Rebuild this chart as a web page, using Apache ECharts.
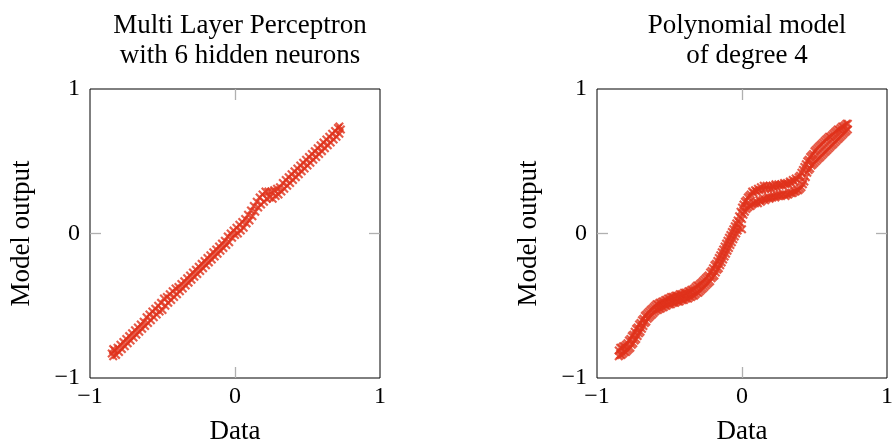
<!DOCTYPE html>
<html>
<head>
<meta charset="utf-8">
<title>Model output vs data</title>
<script src="https://cdn.jsdelivr.net/npm/echarts@6/dist/echarts.min.js"></script>
<style>
  html, body { margin: 0; padding: 0; background: #fff; }
  #chart { width: 896px; height: 446px; }
</style>
</head>
<body>
<div id="chart"></div>
<script>
// values
const tickValues = [-1, 0, 1];
const panelTitles = ['Multi Layer Perceptron\nwith 6 hidden neurons', 'Polynomial model\nof degree 4'];
const xName = 'Data';
const yName = 'Model output';

const mlpPoints = [
  [-0.85,-0.83],[-0.84,-0.80],[-0.84,-0.85],[-0.83,-0.81],[-0.82,-0.84],[-0.81,-0.79],[-0.80,-0.82],[-0.79,-0.77],
  [-0.78,-0.80],[-0.77,-0.75],[-0.76,-0.78],[-0.75,-0.73],[-0.74,-0.76],[-0.73,-0.71],[-0.72,-0.74],[-0.71,-0.69],
  [-0.70,-0.72],[-0.69,-0.67],[-0.68,-0.70],[-0.67,-0.65],[-0.66,-0.68],[-0.65,-0.63],[-0.64,-0.66],[-0.63,-0.61],
  [-0.62,-0.64],[-0.61,-0.58],[-0.60,-0.62],[-0.59,-0.56],[-0.58,-0.60],[-0.57,-0.54],[-0.56,-0.58],[-0.55,-0.52],
  [-0.54,-0.56],[-0.53,-0.50],[-0.52,-0.54],[-0.51,-0.48],[-0.50,-0.53],[-0.49,-0.45],[-0.48,-0.50],[-0.47,-0.44],
  [-0.46,-0.48],[-0.45,-0.42],[-0.44,-0.46],[-0.43,-0.40],[-0.42,-0.44],[-0.41,-0.38],[-0.40,-0.42],[-0.39,-0.37],
  [-0.38,-0.40],[-0.37,-0.35],[-0.36,-0.38],[-0.35,-0.33],[-0.34,-0.36],[-0.33,-0.31],[-0.32,-0.34],[-0.31,-0.29],
  [-0.30,-0.32],[-0.29,-0.27],[-0.28,-0.30],[-0.27,-0.25],[-0.26,-0.28],[-0.25,-0.23],[-0.24,-0.26],[-0.23,-0.21],
  [-0.22,-0.24],[-0.21,-0.19],[-0.20,-0.22],[-0.19,-0.17],[-0.18,-0.20],[-0.17,-0.15],[-0.16,-0.18],[-0.15,-0.13],
  [-0.14,-0.16],[-0.13,-0.11],[-0.12,-0.14],[-0.11,-0.09],[-0.10,-0.12],[-0.09,-0.07],[-0.08,-0.10],[-0.07,-0.05],
  [-0.06,-0.08],[-0.05,-0.02],[-0.04,-0.06],[-0.03,0.00],[-0.02,-0.03],[-0.01,0.02],[0.00,-0.01],[0.01,0.04],
  [0.02,0.00],[0.03,0.06],[0.04,0.02],[0.05,0.08],[0.06,0.04],[0.07,0.10],[0.08,0.07],[0.09,0.13],
  [0.10,0.09],[0.11,0.16],[0.12,0.12],[0.13,0.19],[0.14,0.15],[0.15,0.22],[0.16,0.18],[0.17,0.25],
  [0.18,0.20],[0.19,0.27],[0.20,0.22],[0.21,0.29],[0.22,0.24],[0.23,0.29],[0.24,0.25],[0.25,0.29],
  [0.26,0.24],[0.27,0.30],[0.28,0.26],[0.29,0.31],[0.30,0.27],[0.31,0.32],[0.32,0.29],[0.33,0.35],
  [0.34,0.31],[0.35,0.37],[0.36,0.33],[0.37,0.39],[0.38,0.35],[0.39,0.41],[0.40,0.37],[0.41,0.43],
  [0.42,0.39],[0.43,0.45],[0.44,0.41],[0.45,0.47],[0.46,0.43],[0.47,0.49],[0.48,0.45],[0.49,0.51],
  [0.50,0.47],[0.51,0.53],[0.52,0.49],[0.53,0.55],[0.54,0.51],[0.55,0.57],[0.56,0.53],[0.57,0.59],
  [0.58,0.55],[0.59,0.61],[0.60,0.57],[0.61,0.63],[0.62,0.59],[0.63,0.65],[0.64,0.61],[0.65,0.67],
  [0.66,0.63],[0.67,0.69],[0.68,0.65],[0.69,0.71],[0.70,0.67],[0.71,0.73],[0.72,0.69],[0.73,0.72],
  [0.72,0.74]
];

const polyPoints = [
  [-0.85,-0.81],[-0.85,-0.85],[-0.84,-0.79],[-0.84,-0.84],[-0.83,-0.79],[-0.83,-0.84],[-0.82,-0.78],[-0.82,-0.83],
  [-0.81,-0.78],[-0.81,-0.82],[-0.80,-0.77],[-0.80,-0.82],[-0.79,-0.76],[-0.79,-0.81],[-0.78,-0.74],[-0.78,-0.80],
  [-0.77,-0.73],[-0.77,-0.79],[-0.76,-0.71],[-0.76,-0.77],[-0.75,-0.70],[-0.75,-0.76],[-0.74,-0.68],[-0.74,-0.74],
  [-0.73,-0.66],[-0.73,-0.73],[-0.72,-0.65],[-0.72,-0.71],[-0.71,-0.63],[-0.71,-0.69],[-0.70,-0.62],[-0.70,-0.68],
  [-0.69,-0.60],[-0.69,-0.66],[-0.68,-0.59],[-0.68,-0.64],[-0.67,-0.57],[-0.67,-0.62],[-0.66,-0.56],[-0.66,-0.61],
  [-0.65,-0.55],[-0.65,-0.59],[-0.64,-0.54],[-0.64,-0.58],[-0.63,-0.53],[-0.63,-0.57],[-0.62,-0.52],[-0.62,-0.56],
  [-0.61,-0.51],[-0.61,-0.55],[-0.60,-0.50],[-0.60,-0.54],[-0.59,-0.49],[-0.59,-0.53],[-0.58,-0.49],[-0.58,-0.53],
  [-0.57,-0.48],[-0.57,-0.52],[-0.56,-0.48],[-0.56,-0.52],[-0.55,-0.47],[-0.55,-0.51],[-0.54,-0.47],[-0.54,-0.51],
  [-0.53,-0.46],[-0.53,-0.50],[-0.52,-0.46],[-0.52,-0.50],[-0.51,-0.45],[-0.51,-0.49],[-0.50,-0.45],[-0.50,-0.49],
  [-0.49,-0.44],[-0.49,-0.49],[-0.48,-0.44],[-0.48,-0.48],[-0.47,-0.44],[-0.47,-0.48],[-0.46,-0.43],[-0.46,-0.48],
  [-0.45,-0.43],[-0.45,-0.47],[-0.44,-0.43],[-0.44,-0.47],[-0.43,-0.42],[-0.43,-0.47],[-0.42,-0.42],[-0.42,-0.46],
  [-0.41,-0.42],[-0.41,-0.46],[-0.40,-0.41],[-0.40,-0.46],[-0.39,-0.41],[-0.39,-0.45],[-0.38,-0.41],[-0.38,-0.45],
  [-0.37,-0.40],[-0.37,-0.45],[-0.36,-0.40],[-0.36,-0.44],[-0.35,-0.39],[-0.35,-0.44],[-0.34,-0.39],[-0.34,-0.43],
  [-0.33,-0.38],[-0.33,-0.43],[-0.32,-0.37],[-0.32,-0.42],[-0.31,-0.36],[-0.31,-0.41],[-0.30,-0.36],[-0.30,-0.41],
  [-0.29,-0.35],[-0.29,-0.40],[-0.28,-0.34],[-0.28,-0.39],[-0.27,-0.33],[-0.27,-0.38],[-0.26,-0.32],[-0.26,-0.37],
  [-0.25,-0.31],[-0.25,-0.36],[-0.24,-0.30],[-0.24,-0.35],[-0.23,-0.29],[-0.23,-0.34],[-0.22,-0.27],[-0.22,-0.33],
  [-0.21,-0.26],[-0.21,-0.31],[-0.20,-0.24],[-0.20,-0.30],[-0.19,-0.22],[-0.19,-0.29],[-0.18,-0.21],[-0.18,-0.27],
  [-0.17,-0.19],[-0.17,-0.25],[-0.16,-0.17],[-0.16,-0.24],[-0.15,-0.15],[-0.15,-0.22],[-0.14,-0.13],[-0.14,-0.20],
  [-0.13,-0.11],[-0.13,-0.18],[-0.12,-0.09],[-0.12,-0.16],[-0.11,-0.07],[-0.11,-0.14],[-0.10,-0.05],[-0.10,-0.12],
  [-0.09,-0.03],[-0.09,-0.10],[-0.08,-0.01],[-0.08,-0.08],[-0.07,0.01],[-0.07,-0.06],[-0.06,0.03],[-0.06,-0.04],
  [-0.05,0.05],[-0.05,-0.02],[-0.04,0.07],[-0.04,0.00],[-0.03,0.09],[-0.03,0.02],[-0.02,0.12],[-0.02,0.04],
  [-0.01,0.15],[-0.01,0.07],[0.00,0.18],[0.00,0.10],[0.00,0.03],[0.01,0.20],[0.01,0.13],[0.02,0.22],
  [0.02,0.15],[0.03,0.23],[0.03,0.17],[0.04,0.25],[0.04,0.18],[0.05,0.26],[0.05,0.19],[0.06,0.27],
  [0.06,0.19],[0.07,0.29],[0.07,0.20],[0.08,0.28],[0.08,0.21],[0.09,0.30],[0.09,0.21],[0.10,0.29],
  [0.10,0.22],[0.11,0.31],[0.11,0.21],[0.12,0.30],[0.12,0.23],[0.13,0.32],[0.13,0.22],[0.14,0.30],
  [0.14,0.23],[0.15,0.33],[0.15,0.24],[0.16,0.31],[0.16,0.23],[0.17,0.33],[0.17,0.24],[0.18,0.31],
  [0.18,0.25],[0.19,0.33],[0.19,0.24],[0.20,0.31],[0.20,0.25],[0.21,0.33],[0.21,0.25],[0.22,0.32],
  [0.22,0.26],[0.23,0.34],[0.23,0.25],[0.24,0.32],[0.24,0.26],[0.25,0.34],[0.25,0.26],[0.26,0.33],
  [0.26,0.27],[0.27,0.34],[0.27,0.26],[0.28,0.33],[0.28,0.27],[0.29,0.35],[0.29,0.27],[0.30,0.34],
  [0.30,0.26],[0.31,0.35],[0.31,0.27],[0.32,0.34],[0.32,0.27],[0.33,0.36],[0.33,0.28],[0.34,0.35],
  [0.34,0.28],[0.35,0.37],[0.35,0.28],[0.36,0.36],[0.36,0.29],[0.37,0.38],[0.37,0.29],[0.38,0.37],
  [0.38,0.30],[0.39,0.39],[0.39,0.30],[0.40,0.40],[0.40,0.31],[0.41,0.42],[0.41,0.32],[0.42,0.44],
  [0.42,0.34],[0.43,0.46],[0.43,0.36],[0.44,0.48],[0.44,0.39],[0.45,0.50],[0.45,0.42],[0.46,0.51],
  [0.46,0.44],[0.47,0.53],[0.47,0.45],[0.48,0.54],[0.48,0.47],[0.49,0.55],[0.49,0.48],[0.50,0.57],
  [0.50,0.49],[0.51,0.58],[0.51,0.50],[0.52,0.59],[0.52,0.51],[0.53,0.60],[0.53,0.52],[0.54,0.61],
  [0.54,0.53],[0.55,0.62],[0.55,0.54],[0.56,0.63],[0.56,0.55],[0.57,0.64],[0.57,0.56],[0.58,0.65],
  [0.58,0.57],[0.59,0.66],[0.59,0.58],[0.60,0.67],[0.60,0.59],[0.61,0.67],[0.61,0.60],[0.62,0.68],
  [0.62,0.61],[0.63,0.69],[0.63,0.62],[0.64,0.70],[0.64,0.63],[0.65,0.71],[0.65,0.64],[0.66,0.72],
  [0.66,0.65],[0.67,0.72],[0.67,0.66],[0.68,0.73],[0.68,0.67],[0.69,0.74],[0.69,0.68],[0.70,0.74],
  [0.70,0.69],[0.71,0.75],[0.71,0.70],[0.72,0.76],[0.72,0.71],[0.73,0.76],[0.73,0.72]
];

const FONT = '"Liberation Serif", "DejaVu Serif", serif';
const RED = '#e0321b';
const CROSS = 'path://M0,1.7L1.7,0L5,3.3L8.3,0L10,1.7L6.7,5L10,8.3L8.3,10L5,6.7L1.7,10L0,8.3L3.3,5Z';

const fmt = (v) => (v < 0 ? '\u2212' + Math.abs(v) : String(v));

const grids = [
  { left: 90, top: 89, width: 290, height: 289 },
  { left: 597, top: 89, width: 290, height: 289 },
];

function makeAxis(gridIndex, position, isX, main) {
  return {
    type: 'value',
    gridIndex,
    position,
    min: tickValues[0],
    max: tickValues[tickValues.length - 1],
    interval: 1,
    name: main ? (isX ? xName : yName) : '',
    nameLocation: 'middle',
    nameGap: isX ? 40 : 55,
    nameTextStyle: { fontFamily: FONT, fontSize: 27, color: '#000' },
    axisLine: { show: false, onZero: false },
    axisTick: {
      show: true,
      inside: true,
      length: 11,
      customValues: [0],
      lineStyle: { color: '#b0b0b0', width: 1.3 },
    },
    axisLabel: {
      show: main,
      margin: isX ? 7 : 10,
      formatter: fmt,
      fontFamily: FONT,
      fontSize: 24,
      color: '#000',
    },
    splitLine: { show: false },
  };
}

const chart = echarts.init(document.getElementById('chart'));

chart.setOption({
  animation: false,
  backgroundColor: '#fff',
  title: panelTitles.map((t, i) => ({
    text: t,
    left: grids[i].left + grids[i].width / 2,
    top: 6,
    textAlign: 'center',
    textStyle: {
      fontFamily: FONT,
      fontSize: 27,
      fontWeight: 'normal',
      color: '#000',
      lineHeight: 30,
    },
  })),
  grid: grids.map((g) => ({
    ...g,
    show: true,
    containLabel: false,
    outerBoundsMode: 'none',
    borderColor: '#000',
    borderWidth: 1,
    backgroundColor: 'transparent',
  })),
  xAxis: [
    makeAxis(0, 'bottom', true, true),
    makeAxis(0, 'top', true, false),
    makeAxis(1, 'bottom', true, true),
    makeAxis(1, 'top', true, false),
  ],
  yAxis: [
    makeAxis(0, 'left', false, true),
    makeAxis(0, 'right', false, false),
    makeAxis(1, 'left', false, true),
    makeAxis(1, 'right', false, false),
  ],
  series: [
    {
      type: 'scatter',
      xAxisIndex: 0,
      yAxisIndex: 0,
      data: mlpPoints,
      symbol: CROSS,
      symbolSize: 9,
      itemStyle: { color: RED },
    },
    {
      type: 'scatter',
      xAxisIndex: 2,
      yAxisIndex: 2,
      data: polyPoints,
      symbol: CROSS,
      symbolSize: 9,
      itemStyle: { color: RED },
    },
  ],
});
</script>
</body>
</html>
